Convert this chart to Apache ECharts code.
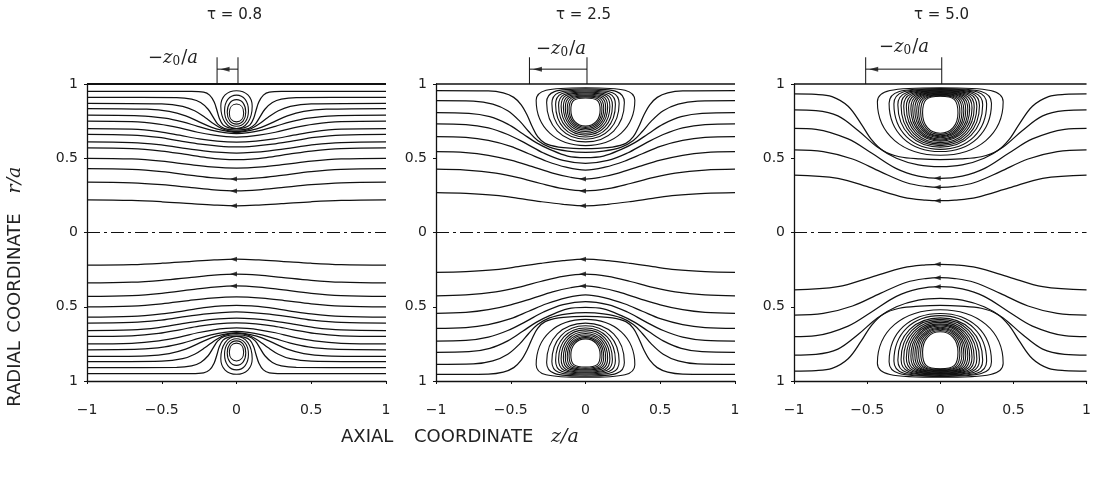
<!DOCTYPE html>
<html>
<head>
<meta charset="utf-8">
<script src="https://cdn.jsdelivr.net/npm/echarts@6/dist/echarts.min.js"></script>
<style>
  html, body { margin: 0; padding: 0; background: #fff; }
  #chart { width: 1094px; height: 477px; }
</style>
</head>
<body>
<div id="chart"></div>
<script>
// panel titles and the -z0/a offsets of the vortex
const taus = ['0.8', '2.5', '5.0'];
const z0 = [0.14, 0.385, 0.52];
const vortexX = 0.01;
const xTicks = [-1, -0.5, 0, 0.5, 1];

// open streamlines, upper half, left side only (x from -1 to 0), symmetric about x = 0
const lines1 = [
  [[-1,0.95],[-0.3,0.95],[-0.22,0.945],[-0.18,0.925],[-0.15,0.88],[-0.13,0.82],[-0.115,0.77],[-0.09,0.725],[-0.05,0.705],[0,0.70]],
  [[-1,0.91],[-0.4,0.908],[-0.3,0.898],[-0.24,0.875],[-0.19,0.83],[-0.155,0.775],[-0.125,0.73],[-0.08,0.70],[0,0.69]],
  [[-1,0.87],[-0.5,0.866],[-0.36,0.85],[-0.28,0.82],[-0.21,0.775],[-0.15,0.73],[-0.1,0.70],[-0.05,0.685],[0,0.68]],
  [[-1,0.835],[-0.6,0.83],[-0.45,0.815],[-0.34,0.785],[-0.25,0.745],[-0.17,0.71],[-0.1,0.69],[0,0.675]],
  [[-1,0.79],[-0.65,0.786],[-0.48,0.77],[-0.36,0.745],[-0.26,0.715],[-0.17,0.69],[-0.08,0.672],[0,0.665]],
  [[-1,0.75],[-0.7,0.746],[-0.52,0.73],[-0.38,0.705],[-0.26,0.675],[-0.15,0.655],[-0.07,0.646],[0,0.643]],
  [[-1,0.70],[-0.7,0.696],[-0.52,0.68],[-0.38,0.655],[-0.25,0.63],[-0.13,0.615],[0,0.609]],
  [[-1,0.66],[-0.7,0.656],[-0.52,0.64],[-0.38,0.617],[-0.24,0.595],[-0.12,0.582],[0,0.576]],
  [[-1,0.61],[-0.7,0.606],[-0.52,0.592],[-0.38,0.572],[-0.22,0.55],[-0.1,0.539],[0,0.535]],
  [[-1,0.57],[-0.7,0.565],[-0.5,0.548],[-0.35,0.527],[-0.2,0.505],[-0.1,0.494],[0,0.49]],
  [[-1,0.50],[-0.7,0.495],[-0.5,0.48],[-0.32,0.458],[-0.17,0.442],[0,0.434]],
  [[-1,0.43],[-0.7,0.425],[-0.5,0.41],[-0.3,0.385],[-0.15,0.368],[0,0.36]],
  [[-1,0.34],[-0.7,0.335],[-0.5,0.322],[-0.3,0.302],[-0.15,0.287],[0,0.28]],
  [[-1,0.22],[-0.7,0.216],[-0.5,0.207],[-0.3,0.194],[-0.15,0.185],[0,0.18]]
];
const lines2 = [
  [[-1,0.955],[-0.65,0.953],[-0.55,0.94],[-0.48,0.91],[-0.43,0.86],[-0.39,0.79],[-0.355,0.71],[-0.32,0.645],[-0.27,0.6],[-0.18,0.575],[-0.08,0.567],[0,0.565]],
  [[-1,0.888],[-0.75,0.885],[-0.62,0.865],[-0.52,0.82],[-0.44,0.75],[-0.38,0.68],[-0.32,0.62],[-0.24,0.575],[-0.12,0.548],[0,0.54]],
  [[-1,0.807],[-0.78,0.803],[-0.64,0.78],[-0.52,0.73],[-0.42,0.665],[-0.33,0.605],[-0.24,0.56],[-0.12,0.515],[0,0.505]],
  [[-1,0.731],[-0.8,0.727],[-0.65,0.705],[-0.52,0.66],[-0.4,0.6],[-0.28,0.535],[-0.15,0.485],[0,0.465]],
  [[-1,0.645],[-0.8,0.64],[-0.65,0.62],[-0.5,0.58],[-0.38,0.53],[-0.26,0.48],[-0.13,0.44],[0,0.42]],
  [[-1,0.544],[-0.8,0.538],[-0.65,0.52],[-0.5,0.487],[-0.36,0.445],[-0.22,0.4],[-0.1,0.372],[0,0.36]],
  [[-1,0.426],[-0.8,0.42],[-0.6,0.4],[-0.45,0.37],[-0.3,0.33],[-0.15,0.295],[0,0.28]],
  [[-1,0.268],[-0.8,0.263],[-0.6,0.25],[-0.45,0.23],[-0.3,0.208],[-0.15,0.19],[0,0.18]]
];
const lines3 = [
  [[-1,0.933],[-0.85,0.93],[-0.74,0.915],[-0.63,0.85],[-0.54,0.73],[-0.47,0.625],[-0.39,0.55],[-0.28,0.51],[-0.14,0.495],[0,0.49]],
  [[-1,0.825],[-0.85,0.82],[-0.7,0.785],[-0.56,0.685],[-0.43,0.575],[-0.3,0.5],[-0.15,0.455],[0,0.443]],
  [[-1,0.702],[-0.85,0.695],[-0.63,0.63],[-0.47,0.535],[-0.3,0.43],[-0.15,0.38],[0,0.365]],
  [[-1,0.556],[-0.8,0.545],[-0.6,0.495],[-0.41,0.41],[-0.23,0.335],[-0.1,0.31],[0,0.304]],
  [[-1,0.387],[-0.7,0.365],[-0.47,0.3],[-0.25,0.237],[-0.1,0.218],[0,0.214]]
];

// closed loops round the vortex, upper half: [half width, top, height of widest point, bottom]
const loops1 = [
  [0.105, 0.955, 0.85, 0.70],
  [0.08, 0.925, 0.82, 0.715],
  [0.062, 0.895, 0.81, 0.73],
  [0.048, 0.865, 0.805, 0.745]
];
const loops2 = [
  [0.33, 0.975, 0.89, 0.585],
  [0.26, 0.967, 0.875, 0.61],
  [0.225, 0.96, 0.868, 0.628],
  [0.20, 0.953, 0.862, 0.643],
  [0.18, 0.946, 0.856, 0.656],
  [0.163, 0.94, 0.85, 0.668],
  [0.148, 0.933, 0.845, 0.68],
  [0.135, 0.926, 0.84, 0.69],
  [0.122, 0.92, 0.835, 0.70],
  [0.11, 0.913, 0.83, 0.708],
  [0.098, 0.906, 0.825, 0.716]
];
const loops3 = [
  [0.43, 0.975, 0.88, 0.52],
  [0.35, 0.970, 0.87, 0.545],
  [0.317, 0.966, 0.865, 0.56],
  [0.29, 0.962, 0.86, 0.575],
  [0.268, 0.958, 0.855, 0.585],
  [0.25, 0.954, 0.85, 0.595],
  [0.232, 0.950, 0.845, 0.605],
  [0.217, 0.946, 0.84, 0.615],
  [0.201, 0.942, 0.835, 0.622],
  [0.188, 0.938, 0.83, 0.63],
  [0.174, 0.934, 0.825, 0.638],
  [0.161, 0.930, 0.82, 0.645],
  [0.148, 0.926, 0.815, 0.652],
  [0.134, 0.922, 0.81, 0.66],
  [0.121, 0.918, 0.805, 0.668]
];

const walls = [1, -1];
const axisY = 0;
// heights of the -z0/a bracket above the wall
const bracketTop = 1.18;
const bracketArrow = 1.1;

const allLines = [lines1, lines2, lines3];
const allLoops = [loops1, loops2, loops3];
const loopSquareness = [0.6, 0.8, 0.8];
const panelLeft = [87, 436, 794];
const ink = '#111';
const txt = '#222';

const chart = echarts.init(document.getElementById('chart'));

function fullLine(half) {
  const right = half.slice(0, -1).reverse().map(p => [-p[0], p[1]]);
  return half.concat(right);
}
function flipY(pts) { return pts.map(p => [p[0], -p[1]]); }
function minus(v) { return v < 0 ? '\u2212' + Math.abs(v) : String(v); }

function loopRenderer(k1) {
  return function (params, api) {
    const w = api.value(0), top = api.value(1), mid = api.value(2), bot = api.value(3);
    const T = api.coord([0, top]), R = api.coord([w, mid]);
    const B = api.coord([0, bot]), L = api.coord([-w, mid]);
    const hw = R[0] - T[0];
    const k2 = 0.6;
    const d = [
      'M', T[0], T[1],
      'C', T[0] + k1 * hw, T[1], R[0], R[1] + k1 * (T[1] - R[1]), R[0], R[1],
      'C', R[0], R[1] + k2 * (B[1] - R[1]), T[0] + k2 * hw, B[1], B[0], B[1],
      'C', T[0] - k2 * hw, B[1], L[0], L[1] + k2 * (B[1] - L[1]), L[0], L[1],
      'C', L[0], L[1] + k1 * (T[1] - L[1]), T[0] - k1 * hw, T[1], T[0], T[1], 'Z'
    ].join(' ');
    return { type: 'path', shape: { pathData: d }, style: { fill: 'none', stroke: ink, lineWidth: 1.1 } };
  };
}

const grid = [], xAxis = [], yAxis = [], series = [], graphic = [];

function plain(i, data, extra) {
  return Object.assign({
    type: 'line', xAxisIndex: i, yAxisIndex: i, data: data,
    showSymbol: false, silent: true, animation: false, clip: false,
    lineStyle: { color: ink, width: 1 }
  }, extra || {});
}

for (let i = 0; i < 3; i++) {
  grid.push({ left: panelLeft[i], top: 84, width: 299, height: 297 });
  xAxis.push({
    gridIndex: i, type: 'value', min: -1, max: 1, interval: 0.5,
    axisLine: { onZero: false, lineStyle: { color: ink, width: 1.3 } },
    axisTick: { show: true, length: 3, lineStyle: { color: ink } },
    splitLine: { show: false },
    axisLabel: { margin: 22, fontSize: 14, color: txt, fontFamily: 'DejaVu Sans', formatter: minus }
  });
  yAxis.push({
    gridIndex: i, type: 'value', min: -1, max: 1, interval: 0.5,
    axisLine: { onZero: false, lineStyle: { color: ink, width: 1.3 } },
    axisTick: { show: true, length: 3, lineStyle: { color: ink } },
    splitLine: { show: false },
    axisLabel: { margin: 9, fontSize: 14, color: txt, fontFamily: 'DejaVu Sans', formatter: v => String(Math.abs(v)) }
  });

  // streamlines
  allLines[i].forEach(half => {
    const pts = fullLine(half);
    [pts, flipY(pts)].forEach(d => series.push(plain(i, d, {
      smooth: 0.35, clip: true, lineStyle: { color: ink, width: 1.25 }
    })));
  });

  // vortex loops
  const lp = allLoops[i];
  series.push({
    type: 'custom', xAxisIndex: i, yAxisIndex: i, silent: true, animation: false,
    renderItem: loopRenderer(loopSquareness[i]),
    data: lp.concat(lp.map(l => [l[0], -l[1], -l[2], -l[3]]))
  });

  // flow arrows on the three streamlines nearest the axis
  const near = allLines[i].slice(-3).map(h => h[h.length - 1]);
  series.push({
    type: 'scatter', xAxisIndex: i, yAxisIndex: i, silent: true, animation: false,
    symbol: 'path://M0,5L12,0L12,10Z', symbolSize: [7, 5], symbolOffset: [-3, 0],
    itemStyle: { color: ink },
    data: near.concat(flipY(near))
  });

  // wall and axis of symmetry
  series.push(plain(i, [[-1, walls[0]], [1, walls[0]]], { lineStyle: { color: ink, width: i === 0 ? 2 : 1.5 } }));
  series.push(plain(i, [[-1, axisY], [1, axisY]], { lineStyle: { color: ink, width: 1, type: [13, 4, 3, 4] } }));

  // -z0/a bracket
  const xl = vortexX - z0[i], xr = vortexX;
  series.push(plain(i, [[xl, walls[0]], [xl, bracketTop]]));
  series.push(plain(i, [[xr, walls[0]], [xr, bracketTop]]));
  series.push(plain(i, [[xr, bracketArrow], [xl, bracketArrow]]));
  series.push({
    type: 'scatter', xAxisIndex: i, yAxisIndex: i, silent: true, animation: false, clip: false,
    symbol: 'path://M0,5L12,0L12,10Z', symbolSize: [9, 5], symbolOffset: [8, 0],
    itemStyle: { color: ink },
    data: [[xl, bracketArrow]]
  });

  // titles
  const cx = panelLeft[i] + 149.5;
  graphic.push({
    type: 'text', x: cx - 2, y: 15,
    style: { text: '\u03c4 = ' + taus[i], fill: txt, font: '15px "DejaVu Sans"', textAlign: 'center', textVerticalAlign: 'middle' }
  });
}

// -z0/a labels
const zLabelPos = [[173, 58], [561, 49], [904, 47]];
zLabelPos.forEach(p => graphic.push({
  type: 'text', x: p[0], y: p[1],
  style: {
    text: '{t|\u2212}{i|z}{s|0}{t|/}{i|a}', textAlign: 'center', textVerticalAlign: 'middle',
    rich: {
      t: { fontFamily: 'DejaVu Serif', fontSize: 18, fill: txt },
      i: { fontFamily: 'DejaVu Serif', fontStyle: 'italic', fontSize: 18, fill: txt },
      s: { fontFamily: 'DejaVu Serif', fontSize: 12, fill: txt, padding: [7, 1, 0, 0] }
    }
  }
}));

// axis titles, word by word
const sans = '18px "DejaVu Sans"';
const ital = 'italic 19px "DejaVu Serif"';
[['AXIAL', 341, sans], ['COORDINATE', 414, sans], ['z/a', 551, ital]].forEach(w => graphic.push({
  type: 'text', x: w[1], y: 437,
  style: { text: w[0], font: w[2], fill: txt, textVerticalAlign: 'middle' }
}));
[['RADIAL', 374, sans], ['COORDINATE', 273, sans], ['r/a', 180, ital]].forEach(w => graphic.push({
  type: 'text', x: 15, y: w[1], rotation: Math.PI / 2,
  style: { text: w[0], font: w[2], fill: txt, textAlign: 'center', textVerticalAlign: 'middle' }
}));

chart.setOption({
  backgroundColor: '#fff',
  animation: false,
  grid, xAxis, yAxis, series, graphic
});
</script>
</body>
</html>
